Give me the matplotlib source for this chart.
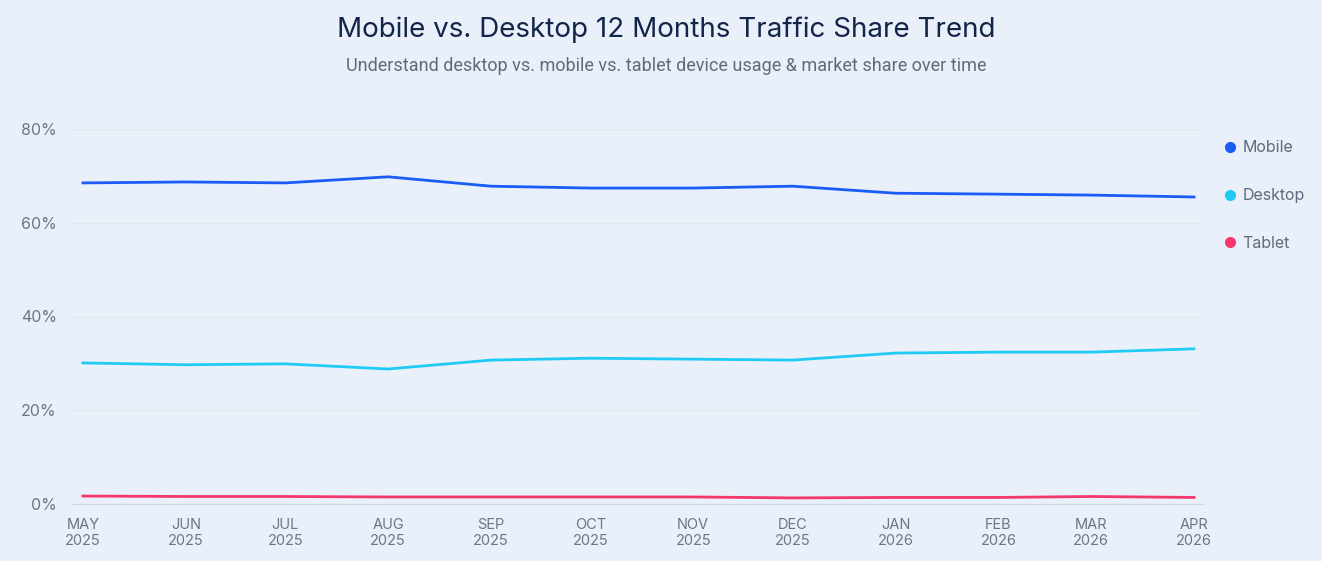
import matplotlib.pyplot as plt
from matplotlib.lines import Line2D
from datetime import datetime, timedelta

months = ["2025-05", "2025-06", "2025-07", "2025-08", "2025-09", "2025-10",
          "2025-11", "2025-12", "2026-01", "2026-02", "2026-03", "2026-04"]
tick_labels = ["MAY\n2025", "JUN\n2025", "JUL\n2025", "AUG\n2025", "SEP\n2025", "OCT\n2025",
               "NOV\n2025", "DEC\n2025", "JAN\n2026", "FEB\n2026", "MAR\n2026", "APR\n2026"]
mobile = [68.5, 68.7, 68.5, 69.8, 67.8, 67.4, 67.4, 67.8, 66.3, 66.1, 65.9, 65.5]
desktop = [30.1, 29.7, 29.9, 28.8, 30.7, 31.1, 30.9, 30.7, 32.2, 32.4, 32.4, 33.1]
tablet = [1.7, 1.6, 1.6, 1.5, 1.5, 1.5, 1.5, 1.3, 1.4, 1.4, 1.6, 1.4]

dates = [datetime.strptime(m, "%Y-%m") for m in months]

bg = "#eaf0fa"
fig = plt.figure(figsize=(13.22, 5.61), dpi=100, facecolor=bg)
ax = fig.add_axes([72 / 1322, 1 - 504 / 561, (1203 - 72) / 1322, 375 / 561])
ax.set_facecolor(bg)

ax.plot(dates, mobile, color="#1b5cf7", lw=2, label="Mobile")
ax.plot(dates, desktop, color="#1fcbf4", lw=2, label="Desktop")
ax.plot(dates, tablet, color="#f4376c", lw=2, label="Tablet")

ax.set_ylim(0, 80)
ax.set_yticks([0, 20, 40, 60, 80])
ax.set_yticklabels(["0%", "20%", "40%", "60%", "80%"])
ax.set_xlim(dates[0] - timedelta(days=3.3), dates[-1] + timedelta(days=2.7))
ax.set_xticks(dates)
ax.set_xticklabels(tick_labels, linespacing=1.15)

ax.grid(axis="y", color="#e2e6ee", lw=1)
ax.set_axisbelow(True)
for s in ["top", "right", "left"]:
    ax.spines[s].set_visible(False)
ax.spines["bottom"].set_color("#cdd6e8")
ax.tick_params(axis="both", length=0, colors="#6b7785", labelsize=10.5)
ax.tick_params(axis="y", pad=11, labelsize=11.5)
ax.tick_params(axis="x", pad=10)
for t in ax.get_xticklabels() + ax.get_yticklabels():
    t.set_fontfamily("Inter")

fig.text(666 / 1322, 1 - 30 / 561, "Mobile vs. Desktop 12 Months Traffic Share Trend",
         ha="center", va="center", fontsize=20, color="#14254a", family="Inter")
fig.text(666 / 1322, 1 - 66 / 561,
         "Understand desktop vs. mobile vs. tablet device usage & market share over time",
         ha="center", va="center", fontsize=13, color="#5d6b7c", family="Roboto")

handles = [Line2D([], [], ls="", marker="o", ms=7, color=c)
           for c in ["#1b5cf7", "#1fcbf4", "#f4376c"]]
leg = fig.legend(handles, ["Mobile", "Desktop", "Tablet"], loc="upper left",
                 bbox_to_anchor=(1206 / 1322, 1 - 126 / 561), frameon=False,
                 labelspacing=2.05, handletextpad=0.2, handlelength=1.2,
                 prop={"family": "Inter", "size": 11.5})
for t in leg.get_texts():
    t.set_color("#5d6b7c")

fig.savefig("out.png", dpi=100, facecolor=bg)
